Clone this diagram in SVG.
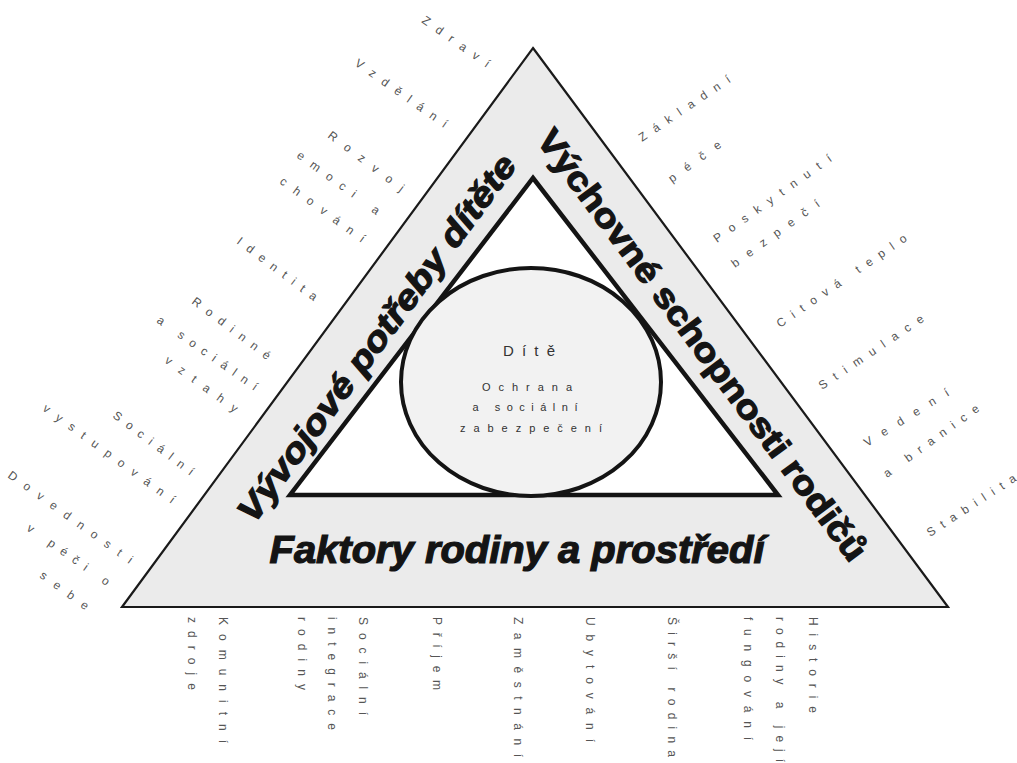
<svg xmlns="http://www.w3.org/2000/svg" width="1017" height="763" viewBox="0 0 1017 763">
<style>
.lbl{font-family:"Liberation Sans",Arial,sans-serif;font-size:12px;fill:#555555}
.big{font-family:"Liberation Sans",Arial,sans-serif;font-weight:bold;fill:#141414;stroke:#141414;stroke-width:1.2}
.ctr{font-family:"Liberation Sans",Arial,sans-serif;fill:#333333;text-anchor:middle}
</style>
<rect width="1017" height="763" fill="#ffffff"/>
<g id="outer-triangle">
<polygon points="533,48 948,607 122,607" fill="#ebebeb" stroke="#1a1a1a" stroke-width="2.2" stroke-linejoin="miter"/>
</g>
<g id="inner-triangle">
<polygon points="533,178 778,495 290,495" fill="#ffffff" stroke="#141414" stroke-width="4.5" stroke-linejoin="miter"/>
</g>
<g id="child-circle">
<ellipse cx="531" cy="382" rx="130" ry="114" fill="#f2f2f2" stroke="#141414" stroke-width="4"/>
<text class="ctr" x="529" y="356" font-size="15" textLength="52" lengthAdjust="spacing">Dítě</text>
<text class="ctr" x="527" y="391" font-size="11" textLength="90" lengthAdjust="spacing">Ochrana</text>
<text class="ctr" x="525" y="411" font-size="11" textLength="105" lengthAdjust="spacing">a sociální</text>
<text class="ctr" x="531" y="432" font-size="11" textLength="142" lengthAdjust="spacing">zabezpečení</text>
</g>
<g id="side-titles">
<text class="big" font-style="italic" font-size="34" text-anchor="middle" transform="translate(386,345) rotate(-53.7)" textLength="446" lengthAdjust="spacingAndGlyphs">Vývojové potřeby dítěte</text>
<text class="big" font-size="34" text-anchor="middle" transform="translate(693,352) rotate(53.4)" textLength="528" lengthAdjust="spacingAndGlyphs">Výchovné schopnosti rodičů</text>
<text class="big" font-style="italic" font-size="38" text-anchor="middle" x="517" y="563" textLength="495" lengthAdjust="spacingAndGlyphs">Faktory rodiny a prostředí</text>
</g>
<g id="child-needs-labels">
<text class="lbl" transform="translate(421,22) rotate(35)" textLength="80" lengthAdjust="spacing">Zdraví</text>
<text class="lbl" transform="translate(354,65) rotate(35)" textLength="110" lengthAdjust="spacing">Vzdělání</text>
<text class="lbl" transform="translate(327,137) rotate(37)" textLength="92" lengthAdjust="spacing">Rozvoj</text>
<text class="lbl" transform="translate(296,157) rotate(36)" textLength="99" lengthAdjust="spacing">emoci a</text>
<text class="lbl" transform="translate(279,183) rotate(36)" textLength="102" lengthAdjust="spacing">chování</text>
<text class="lbl" transform="translate(236,243) rotate(37)" textLength="97" lengthAdjust="spacing">Identita</text>
<text class="lbl" transform="translate(191,303) rotate(37)" textLength="95" lengthAdjust="spacing">Rodinné</text>
<text class="lbl" transform="translate(156,322) rotate(35)" textLength="120" lengthAdjust="spacing">a sociální</text>
<text class="lbl" transform="translate(164,362) rotate(36)" textLength="87" lengthAdjust="spacing">vztahy</text>
<text class="lbl" transform="translate(112,417) rotate(37)" textLength="98" lengthAdjust="spacing">Sociální</text>
<text class="lbl" transform="translate(42,410) rotate(36)" textLength="160" lengthAdjust="spacing">vystupování</text>
<text class="lbl" transform="translate(7,477) rotate(35.5)" textLength="150" lengthAdjust="spacing">Dovednosti</text>
<text class="lbl" transform="translate(26,530) rotate(35)" textLength="98" lengthAdjust="spacing">v péči o</text>
<text class="lbl" transform="translate(39,577) rotate(36)" textLength="57" lengthAdjust="spacing">sebe</text>
</g>
<g id="parenting-labels">
<text class="lbl" transform="translate(642,142) rotate(-34)" textLength="108" lengthAdjust="spacing">Základní</text>
<text class="lbl" transform="translate(672,183) rotate(-36)" textLength="62" lengthAdjust="spacing">péče</text>
<text class="lbl" transform="translate(717,243) rotate(-35.5)" textLength="142" lengthAdjust="spacing">Poskytnutí</text>
<text class="lbl" transform="translate(735,268) rotate(-36)" textLength="106" lengthAdjust="spacing">bezpečí</text>
<text class="lbl" transform="translate(780,328) rotate(-34.5)" textLength="155" lengthAdjust="spacing">Citová teplo</text>
<text class="lbl" transform="translate(822,390) rotate(-34)" textLength="124" lengthAdjust="spacing">Stimulace</text>
<text class="lbl" transform="translate(867,447) rotate(-32)" textLength="98" lengthAdjust="spacing">Vedení</text>
<text class="lbl" transform="translate(887,478) rotate(-36)" textLength="115" lengthAdjust="spacing">a branice</text>
<text class="lbl" transform="translate(930,537) rotate(-33)" textLength="104" lengthAdjust="spacing">Stabilita</text>
</g>
<g id="family-labels">
<text class="lbl" transform="translate(219,617) rotate(90)" textLength="126" lengthAdjust="spacing">Komunitní</text>
<text class="lbl" transform="translate(188,617) rotate(90)" textLength="73" lengthAdjust="spacing">zdroje</text>
<text class="lbl" transform="translate(359,617) rotate(90)" textLength="98" lengthAdjust="spacing">Sociální</text>
<text class="lbl" transform="translate(328,617) rotate(90)" textLength="113" lengthAdjust="spacing">integrace</text>
<text class="lbl" transform="translate(298,617) rotate(90)" textLength="73" lengthAdjust="spacing">rodiny</text>
<text class="lbl" transform="translate(433,617) rotate(90)" textLength="73" lengthAdjust="spacing">Příjem</text>
<text class="lbl" transform="translate(514,617) rotate(90)" textLength="140" lengthAdjust="spacing">Zaměstnání</text>
<text class="lbl" transform="translate(586,617) rotate(90)" textLength="125" lengthAdjust="spacing">Ubytování</text>
<text class="lbl" transform="translate(668,617) rotate(90)" textLength="140" lengthAdjust="spacing">Širší rodina</text>
<text class="lbl" transform="translate(809,617) rotate(90)" textLength="96" lengthAdjust="spacing">Historie</text>
<text class="lbl" transform="translate(776,617) rotate(90)" textLength="145" lengthAdjust="spacing">rodiny a její</text>
<text class="lbl" transform="translate(744,617) rotate(90)" textLength="123" lengthAdjust="spacing">fungování</text>
</g>
<g id="connectors"/>
</svg>
